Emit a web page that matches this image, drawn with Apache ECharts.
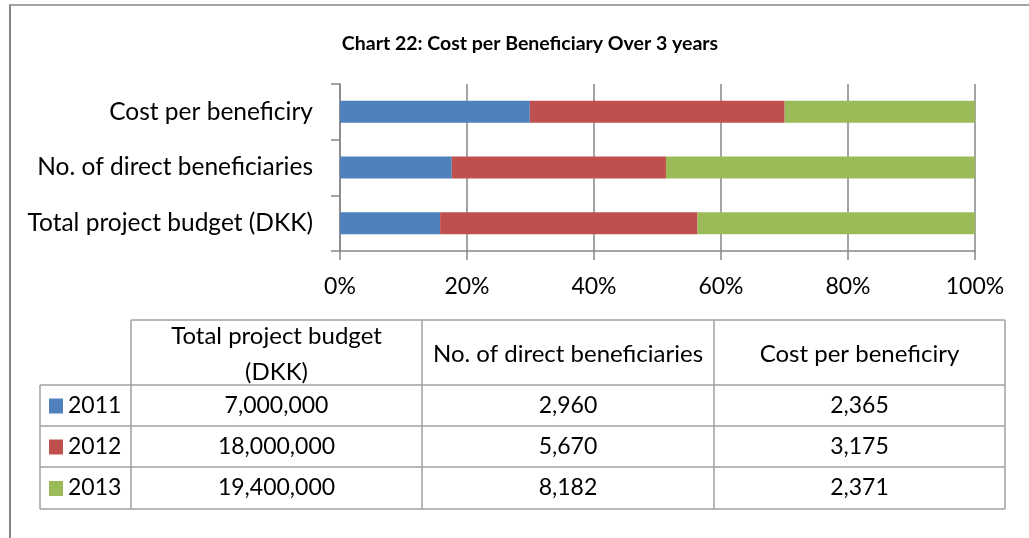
<!DOCTYPE html>
<html>
<head>
<meta charset="utf-8">
<script src="https://cdn.jsdelivr.net/npm/echarts@6/dist/echarts.min.js"></script>
<style>
  html, body { margin: 0; padding: 0; background: #fff; }
  #main { width: 1029px; height: 538px; }
</style>
</head>
<body>
<div id="main"></div>
<script>
// categories (bottom to top on the chart, left to right in the table)
const categories = ['Total project budget (DKK)', 'No. of direct beneficiaries', 'Cost per beneficiry'];
const tableHeaders = ['Total project budget\n(DKK)', 'No. of direct beneficiaries', 'Cost per beneficiry'];
const years = ['2011', '2012', '2013'];
const colors = ['#4F81BD', '#C0504D', '#9BBB59'];

// raw values per year, same order as categories
const values2011 = [7000000, 2960, 2365];
const values2012 = [18000000, 5670, 3175];
const values2013 = [19400000, 8182, 2371];
const allValues = [values2011, values2012, values2013];

const xTicks = [0, 20, 40, 60, 80, 100];

const font = 'Lato, "Open Sans", sans-serif';
const gray = '#868686';

// share of each year within a category (100% stacked)
const totals = categories.map((c, i) => allValues.reduce((s, v) => s + v[i], 0));
const shares = allValues.map(v => v.map((x, i) => x / totals[i] * 100));

function fmt(n) {
  return n.toLocaleString('en-US');
}

// data table drawn below the chart
const colX = [40, 131, 422, 714, 1005];
const rowY = [320, 385, 426, 467, 509];
const lineStyle = { stroke: '#a0a0a0', lineWidth: 1.5 };
const table = [];

// horizontal rules
table.push({ type: 'line', shape: { x1: colX[1], y1: rowY[0], x2: colX[4], y2: rowY[0] }, style: lineStyle });
for (let r = 1; r < rowY.length; r++) {
  table.push({ type: 'line', shape: { x1: colX[0], y1: rowY[r], x2: colX[4], y2: rowY[r] }, style: lineStyle });
}
// vertical rules
table.push({ type: 'line', shape: { x1: colX[0], y1: rowY[1], x2: colX[0], y2: rowY[4] }, style: lineStyle });
for (let c = 1; c < colX.length; c++) {
  table.push({ type: 'line', shape: { x1: colX[c], y1: rowY[0], x2: colX[c], y2: rowY[4] }, style: lineStyle });
}
// header cells
tableHeaders.forEach((h, i) => {
  table.push({
    type: 'text',
    x: (colX[i + 1] + colX[i + 2]) / 2,
    y: (rowY[0] + rowY[1]) / 2 + 2,
    style: { text: h, font: '24px ' + font, fill: '#000', align: 'center', verticalAlign: 'middle', lineHeight: 36 }
  });
});
// body rows
years.forEach((y, r) => {
  const cy = (rowY[r + 1] + rowY[r + 2]) / 2;
  table.push({ type: 'rect', shape: { x: 49, y: cy - 7, width: 14, height: 15 }, style: { fill: colors[r] } });
  table.push({
    type: 'text', x: 68, y: cy,
    style: { text: y, font: '23px ' + font, fill: '#000', align: 'left', verticalAlign: 'middle' }
  });
  allValues[r].forEach((v, c) => {
    table.push({
      type: 'text',
      x: (colX[c + 1] + colX[c + 2]) / 2,
      y: cy,
      style: { text: fmt(v), font: '23px ' + font, fill: '#000', align: 'center', verticalAlign: 'middle' }
    });
  });
});

// outer frame
table.push({ type: 'line', shape: { x1: 9, y1: 5, x2: 1029, y2: 5 }, style: { stroke: gray, lineWidth: 1.5 } });
table.push({ type: 'line', shape: { x1: 10, y1: 5, x2: 10, y2: 538 }, style: { stroke: gray, lineWidth: 2 } });

const chart = echarts.init(document.getElementById('main'));

chart.setOption({
  animation: false,
  title: {
    text: 'Chart 22: Cost per Beneficiary Over 3 years',
    left: 525,
    textAlign: 'center',
    top: 29,
    textStyle: { fontFamily: font, fontSize: 19.5, fontWeight: 'bold', color: '#000' }
  },
  grid: { left: 340, right: 54, top: 84, bottom: 287 },
  xAxis: {
    type: 'value',
    min: xTicks[0],
    max: xTicks[xTicks.length - 1],
    interval: xTicks[1] - xTicks[0],
    axisLine: { show: true, lineStyle: { color: gray, width: 1.5 } },
    axisTick: { show: true, length: 9, lineStyle: { color: gray, width: 1.5 } },
    axisLabel: { formatter: '{value}%', fontFamily: font, fontSize: 23, color: '#000', margin: 24 },
    splitLine: { show: true, lineStyle: { color: gray, width: 1.5 } }
  },
  yAxis: {
    type: 'category',
    data: categories,
    axisLine: { show: true, lineStyle: { color: gray, width: 1.5 } },
    axisTick: { show: true, length: 9, lineStyle: { color: gray, width: 1.5 } },
    axisLabel: { fontFamily: font, fontSize: 24.5, color: '#000', margin: 27 }
  },
  series: years.map((y, i) => ({
    name: y,
    type: 'bar',
    stack: 'total',
    barWidth: 22,
    data: shares[i],
    itemStyle: { color: colors[i] }
  })),
  graphic: table
});
</script>
</body>
</html>
